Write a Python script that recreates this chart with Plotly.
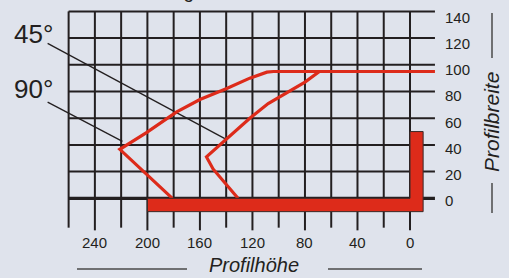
import plotly.graph_objects as go

# ---- data ----
grid_x = list(range(0, 261, 20))          # vertical grid positions (Profilhöhe)
grid_y = list(range(0, 141, 20))          # horizontal grid positions (Profilbreite)
x_tick_labels = [240, 200, 160, 120, 80, 40, 0]
y_tick_labels = [0, 20, 40, 60, 80, 100, 120, 140]

curve90_x = [181, 201, 221, 201, 178, 160, 140, 122, 109, 104, -19]
curve90_y = [0, 18.5, 36.7, 49, 64.6, 74, 82, 90, 94.5, 95, 95]
curve45_x = [131, 150, 155, 140, 122, 108, 90, 80, 69]
curve45_y = [0, 22, 31, 44, 60, 71, 81, 87, 95]

profile_x = [200, 0, 0, -10, -10, 200, 200]   # L-profile outline
profile_y = [0, 0, 50, 50, -10, -10, 0]

leader45_x = [276, 141]; leader45_y = [116, 44.7]
leader90_x = [276, 219]; leader90_y = [72, 42.7]

# ---- styling ----
BG = "#dfe3ec"
RED = "#dd2b1a"
INK = "#231f20"
FONT = "Liberation Sans, Arial, sans-serif"
W, H = 509, 278

fig = go.Figure()

# vertical grid lines
vx, vy = [], []
for gx in grid_x:
    bottom = -24 if gx % 40 == 0 else -22
    vx += [gx, gx, None]; vy += [140, bottom, None]
fig.add_trace(go.Scatter(x=vx, y=vy, mode="lines", line=dict(color=INK, width=2),
                         hoverinfo="skip", showlegend=False))
# horizontal grid lines
hx, hy = [], []
for gy in grid_y:
    if gy == 0:
        continue
    hx += [260, -19, None]; hy += [gy, gy, None]
fig.add_trace(go.Scatter(x=hx, y=hy, mode="lines", line=dict(color=INK, width=2),
                         hoverinfo="skip", showlegend=False))
fig.add_trace(go.Scatter(x=[260, -19], y=[0, 0], mode="lines", line=dict(color=INK, width=3.2),
                         hoverinfo="skip", showlegend=False))

# leader lines
fig.add_trace(go.Scatter(x=leader45_x, y=leader45_y, mode="lines", line=dict(color=INK, width=1.3),
                         hoverinfo="skip", showlegend=False))
fig.add_trace(go.Scatter(x=leader90_x, y=leader90_y, mode="lines", line=dict(color=INK, width=1.3),
                         hoverinfo="skip", showlegend=False))

# curves
fig.add_trace(go.Scatter(x=curve90_x, y=curve90_y, mode="lines", line=dict(color=RED, width=3.2),
                         hoverinfo="skip", showlegend=False))
fig.add_trace(go.Scatter(x=curve45_x, y=curve45_y, mode="lines", line=dict(color=RED, width=3.2),
                         hoverinfo="skip", showlegend=False))

# profile bar
fig.add_trace(go.Scatter(x=profile_x, y=profile_y, mode="lines", fill="toself", fillcolor=RED,
                         line=dict(color="#3a2a28", width=1), hoverinfo="skip", showlegend=False))

ann = []
for v in y_tick_labels:
    ann.append(dict(x=-25, y=v, xref="x", yref="y", text=str(v), showarrow=False,
                    xanchor="left", yanchor="middle", yshift=-2 - v * 0.03,
                    font=dict(family=FONT, size=15, color=INK)))
for v in x_tick_labels:
    ann.append(dict(x=v, y=-33, xref="x", yref="y", text=str(v), showarrow=False,
                    xanchor="center", yanchor="middle",
                    font=dict(family=FONT, size=15, color=INK)))

def px(x): return x / W
def py(y): return 1 - y / H

ann += [
    dict(x=px(33.5), y=py(33.5), xref="paper", yref="paper", text="45°", showarrow=False,
         xanchor="center", yanchor="middle", font=dict(family=FONT, size=26, color=INK)),
    dict(x=px(33.5), y=py(89), xref="paper", yref="paper", text="90°", showarrow=False,
         xanchor="center", yanchor="middle", font=dict(family=FONT, size=26, color=INK)),
    dict(x=px(254), y=0, xref="paper", yref="paper", text="Profilhöhe", showarrow=False,
         xanchor="center", yanchor="bottom",
         font=dict(family=FONT, size=20, color=INK, style="italic")),
    dict(x=px(492), y=py(122), xref="paper", yref="paper", text="Profilbreite", showarrow=False,
         xanchor="center", yanchor="middle", textangle=-90,
         font=dict(family=FONT, size=21, color=INK, style="italic")),
    dict(x=px(142), y=py(-8), xref="paper", yref="paper", text="Schenkellänge", showarrow=False,
         xanchor="center", yanchor="middle",
         font=dict(family=FONT, size=19, color=INK)),
]

shapes = [
    dict(type="line", xref="paper", yref="paper", x0=px(77), x1=px(187), y0=py(269), y1=py(269),
         line=dict(color="#4a4a4a", width=1.5)),
    dict(type="line", xref="paper", yref="paper", x0=px(328), x1=px(422), y0=py(269), y1=py(269),
         line=dict(color="#4a4a4a", width=1.5)),
    dict(type="line", xref="paper", yref="paper", x0=px(492), x1=px(492), y0=py(13), y1=py(58),
         line=dict(color="#4a4a4a", width=1.5)),
    dict(type="line", xref="paper", yref="paper", x0=px(492), x1=px(492), y0=py(183), y1=py(213),
         line=dict(color="#4a4a4a", width=1.5)),
]

sx = 1.313
sy = 1.335
fig.update_layout(
    width=W, height=H, margin=dict(l=0, r=0, t=0, b=0),
    paper_bgcolor=BG, plot_bgcolor=BG,
    xaxis=dict(range=[410 / sx, (410 - W) / sx], visible=False, fixedrange=True),
    yaxis=dict(range=[(198.3 - H) / sy, 198.3 / sy], visible=False, fixedrange=True),
    annotations=ann, shapes=shapes, showlegend=False,
)

fig.write_html("out.html", config={"displayModeBar": False},
               post_script="document.body.style.margin='0';document.body.style.padding='0';"
                           "document.body.style.background='" + BG + "';")
